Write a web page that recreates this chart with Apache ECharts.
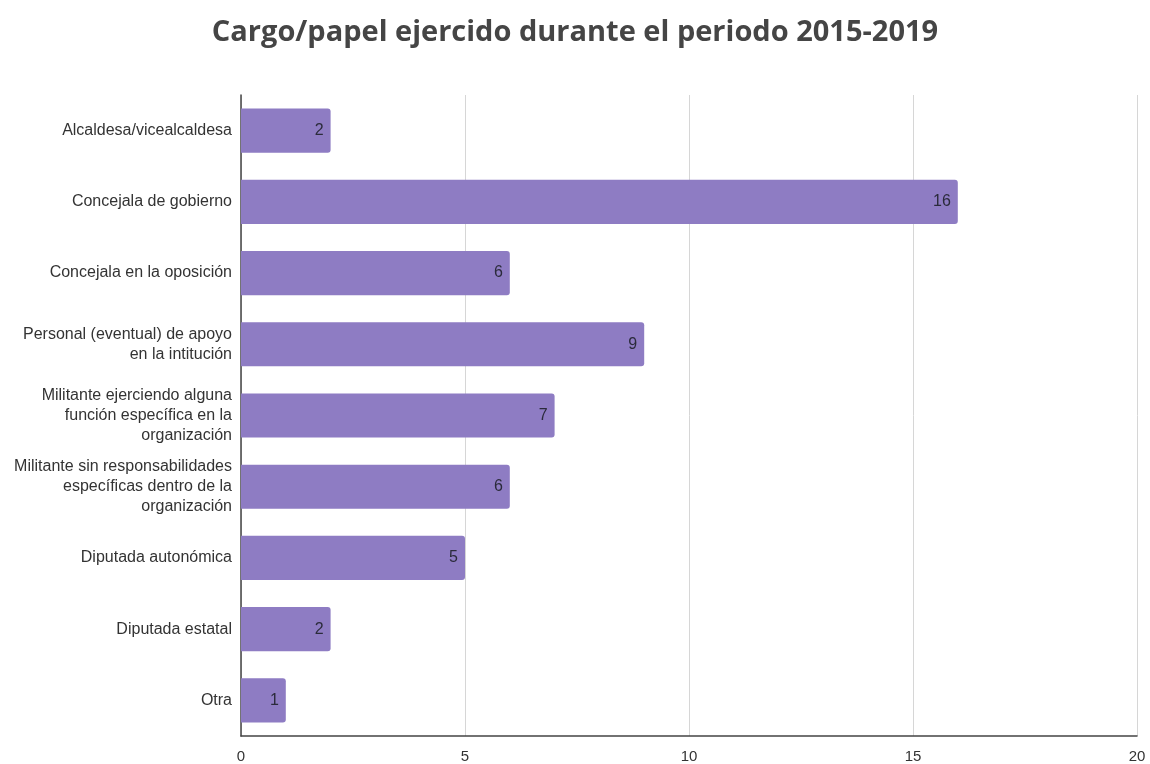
<!DOCTYPE html>
<html>
<head>
<meta charset="utf-8">
<script src="https://cdn.jsdelivr.net/npm/echarts@6/dist/echarts.min.js"></script>
<style>
  html, body { margin: 0; padding: 0; background: #fff; }
  #chart { width: 1150px; height: 764px; }
</style>
</head>
<body>
<div id="chart"></div>
<script>
// categorías (de arriba abajo)
const categories = [
  'Alcaldesa/vicealcaldesa',
  'Concejala de gobierno',
  'Concejala en la oposición',
  'Personal (eventual) de apoyo\nen la intitución',
  'Militante ejerciendo alguna\nfunción específica en la\norganización',
  'Militante sin responsabilidades\nespecíficas dentro de la\norganización',
  'Diputada autonómica',
  'Diputada estatal',
  'Otra'
]
const values = [2, 16, 6, 9, 7, 6, 5, 2, 1]
const xTicks = [0, 5, 10, 15, 20]

const chart = echarts.init(document.getElementById('chart'))
chart.setOption({
  animation: false,
  title: {
    text: 'Cargo/papel ejercido durante el periodo 2015-2019',
    left: 'center',
    top: 13,
    textStyle: {
      fontFamily: 'Open Sans',
      fontWeight: 'bold',
      fontSize: 29,
      color: '#454545'
    }
  },
  grid: {
    left: 241,
    right: 13,
    top: 95,
    bottom: 28,
    containLabel: false
  },
  xAxis: {
    type: 'value',
    min: xTicks[0],
    max: xTicks[xTicks.length - 1],
    interval: 5,
    axisLine: { show: true, lineStyle: { color: '#444', width: 1.5 } },
    axisTick: { show: false },
    axisLabel: {
      color: '#333',
      fontFamily: 'Liberation Sans',
      fontSize: 15,
      margin: 13
    },
    splitLine: { show: true, lineStyle: { color: '#d6d6d6' } }
  },
  yAxis: {
    type: 'category',
    inverse: true,
    data: categories,
    axisLine: { show: true, lineStyle: { color: '#444', width: 1.5 } },
    axisTick: { show: false },
    axisLabel: {
      color: '#333',
      fontFamily: 'Liberation Sans',
      fontSize: 16,
      lineHeight: 20,
      margin: 9,
      align: 'right'
    }
  },
  series: [{
    type: 'bar',
    data: values,
    barCategoryGap: '38%',
    itemStyle: {
      color: '#8e7cc3',
      borderRadius: [0, 3, 3, 0]
    },
    label: {
      show: true,
      position: 'insideRight',
      distance: 7,
      color: '#2b2b3b',
      fontFamily: 'Liberation Sans',
      fontSize: 16
    }
  }]
})
</script>
</body>
</html>
